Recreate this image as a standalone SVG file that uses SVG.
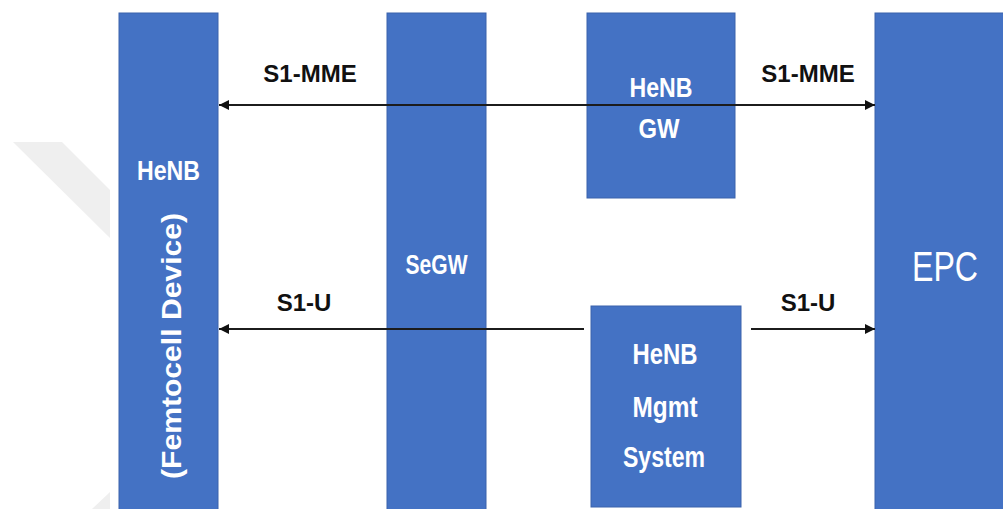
<svg xmlns="http://www.w3.org/2000/svg" width="1003" height="509" viewBox="0 0 1003 509">
  <defs>
    <style>
      .box { fill: #4472C4; stroke: #3A63AC; stroke-width: 1; }
      .lbl { fill: #ffffff; font-family: "Liberation Sans", Arial, sans-serif; font-weight: bold; text-anchor: middle; }
      .big { fill: #ffffff; font-family: "Liberation Sans", Arial, sans-serif; text-anchor: middle; }
      .iface { fill: #111111; font-family: "Liberation Sans", Arial, sans-serif; font-weight: bold; font-size: 24px; text-anchor: middle; }
      .link { stroke: #1c1c1c; stroke-width: 2; fill: none; }
    </style>
    <marker id="arrow" markerUnits="userSpaceOnUse" markerWidth="10" markerHeight="10" refX="10" refY="5" orient="auto-start-reverse">
      <path d="M0,0 L10,5 L0,10 z" fill="#111111"/>
    </marker>
  </defs>

  <rect width="1003" height="509" fill="#ffffff"/>

  <!-- faint chevron in the left margin -->
  <g id="backdrop" fill="#efefef">
    <polygon points="13,142 62,142 110,190 110,238"/>
    <polygon points="110,492 110,509 92,509"/>
  </g>

  <g id="henb">
    <rect class="box" x="119" y="13" width="99" height="500"/>
    <text class="lbl" x="168.5" y="180" font-size="28" textLength="63" lengthAdjust="spacingAndGlyphs">HeNB</text>
    <text class="lbl" font-size="28" transform="translate(181,346) rotate(-90)" textLength="266" lengthAdjust="spacingAndGlyphs">(Femtocell Device)</text>
  </g>

  <g id="segw">
    <rect class="box" x="387" y="13" width="99" height="500"/>
    <text class="lbl" x="436.5" y="274" font-size="27" textLength="62" lengthAdjust="spacingAndGlyphs">SeGW</text>
  </g>

  <g id="henb-gw">
    <rect class="box" x="587" y="13" width="148" height="185"/>
    <text class="lbl" x="661" y="97" font-size="28" textLength="63" lengthAdjust="spacingAndGlyphs">HeNB</text>
    <text class="lbl" x="659" y="138" font-size="28" textLength="41" lengthAdjust="spacingAndGlyphs">GW</text>
  </g>

  <g id="henb-mgmt">
    <rect class="box" x="591" y="306" width="150" height="201"/>
    <text class="lbl" x="665" y="364" font-size="30" textLength="65" lengthAdjust="spacingAndGlyphs">HeNB</text>
    <text class="lbl" x="665" y="417" font-size="30" textLength="65" lengthAdjust="spacingAndGlyphs">Mgmt</text>
    <text class="lbl" x="664" y="467" font-size="30" textLength="82" lengthAdjust="spacingAndGlyphs">System</text>
  </g>

  <g id="epc">
    <rect class="box" x="875" y="13" width="140" height="500"/>
    <text class="big" x="945" y="281" font-size="42" textLength="66" lengthAdjust="spacingAndGlyphs">EPC</text>
  </g>

  <g id="connectors">
    <path class="link" d="M219,105 L875,105" marker-start="url(#arrow)" marker-end="url(#arrow)"/>
    <path class="link" d="M584,329 L219,329" marker-end="url(#arrow)"/>
    <path class="link" d="M751,329 L875,329" marker-end="url(#arrow)"/>
    <text class="iface" x="310" y="82">S1-MME</text>
    <text class="iface" x="808" y="82">S1-MME</text>
    <text class="iface" x="304" y="311">S1-U</text>
    <text class="iface" x="808" y="311">S1-U</text>
  </g>
</svg>
